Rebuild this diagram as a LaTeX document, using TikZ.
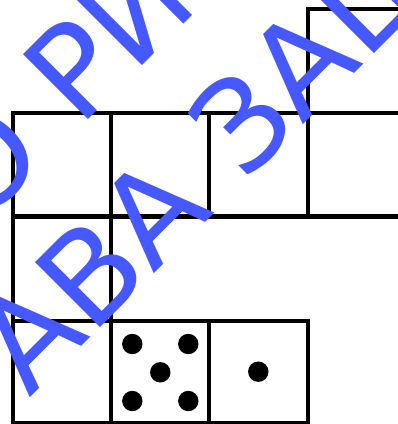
\documentclass[tikz,border=0pt]{standalone}
\usepackage{fontspec}
\newfontfamily\wmfont[FakeStretch=1.02]{DejaVu Sans}
\definecolor{wmblue}{RGB}{70,88,255}
\begin{document}
\begin{tikzpicture}[x=1pt,y=-1pt,
  cell/.style={line width=4pt,line cap=rect},
  pip/.style={fill=black},
  wm/.style={text=wmblue,font=\wmfont\fontsize{126}{126}\selectfont,inner sep=0pt,rotate=45,anchor=base west}]
\useasboundingbox (0,0) rectangle (398,424);
\clip (0,0) rectangle (398,424);
% grid
\draw[cell] (308,114) -- (308,8.7) -- (420,8.7);
\draw[cell] (420,112.5) -- (13.3,112.5) -- (13.3,321.3);
\draw[cell,line width=5.5pt] (13.3,216.5) -- (420,216.5);
\draw[cell] (111,112.5) -- (111,321.3);
\draw[cell] (209,112.5) -- (209,216.5);
\draw[cell] (308,112.5) -- (308,216.5);
\draw[cell] (13.3,321.3) rectangle (307.8,423);
\draw[cell] (111,321.3) -- (111,423);
\draw[cell] (209,321.3) -- (209,423);
% pips
\foreach \p in {(132.3,344),(188.3,344),(160.3,372.3),(132.3,401),(188.3,401),(258.3,371.7)}
  \fill[pip] \p circle (10.2);
% watermark
\node[wm] (wa) at (-21.3,229.3) {О РИ};
\node[wm] (wb) at (29,399) {АВА ЗАЩ};
\end{tikzpicture}
\end{document}
